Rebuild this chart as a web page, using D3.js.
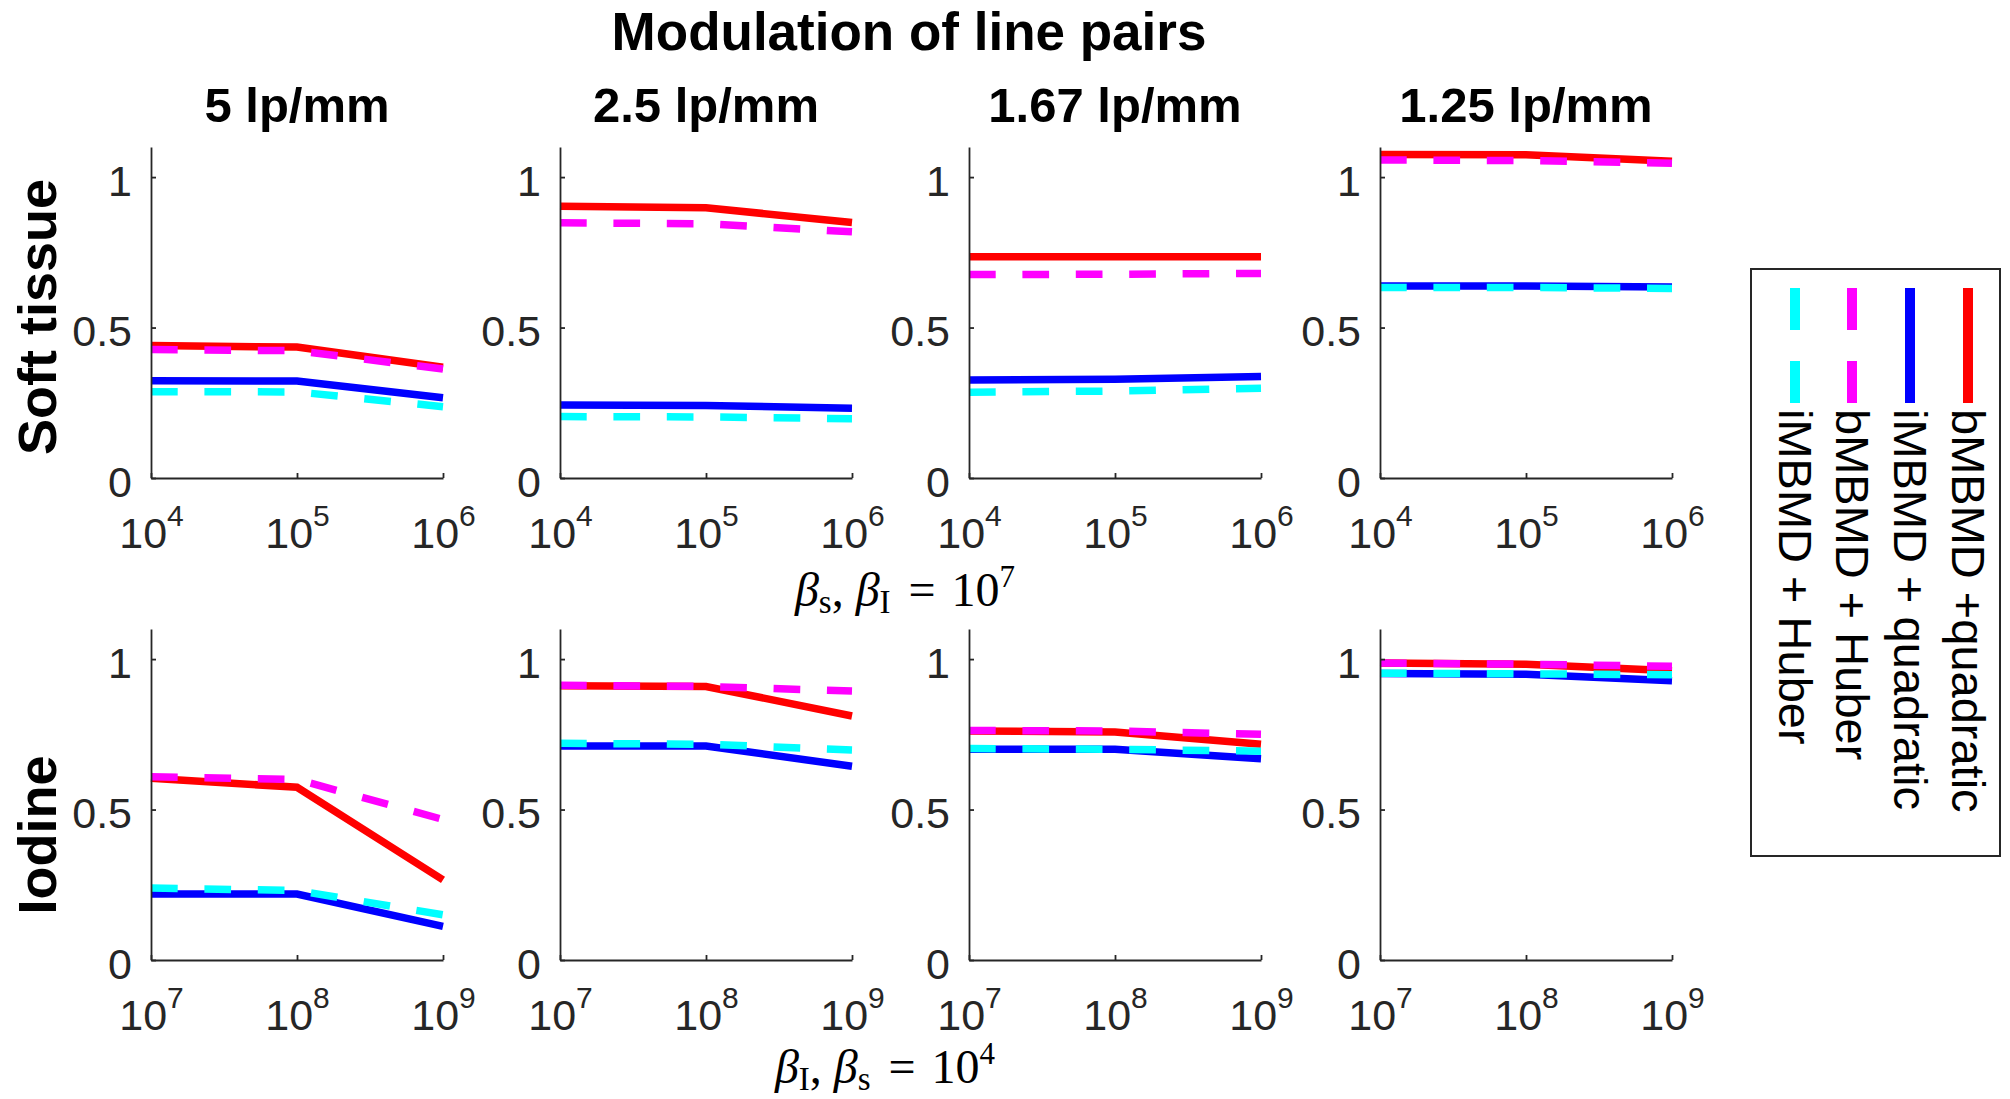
<!DOCTYPE html>
<html>
<head>
<meta charset="utf-8">
<script src="https://cdn.jsdelivr.net/npm/d3@7"></script>
<style>
  html, body { margin: 0; padding: 0; background: #ffffff; }
  svg { display: block; }
</style>
</head>
<body>
<script>
// ---------------- DATA ----------------
const panelTitles = ["5 lp/mm", "2.5 lp/mm", "1.67 lp/mm", "1.25 lp/mm"];
const rowLabels = ["Soft tissue", "Iodine"];
const seriesNames = ["bMBMD +quadratic", "iMBMD + quadratic", "bMBMD + Huber", "iMBMD + Huber"];

const xTop = [1e4, 1e5, 1e6];
const xBottom = [1e7, 1e8, 1e9];
const yTickValues = [0, 0.5, 1];
const yTickLabels = ["0", "0.5", "1"];
const xTopExponents = [4, 5, 6];
const xBottomExponents = [7, 8, 9];

// Soft tissue row (beta_s varied, beta_I = 1e7); one array per panel
const softBQuad = [[0.440, 0.435, 0.368], [0.903, 0.898, 0.849], [0.735, 0.735, 0.735], [1.075, 1.074, 1.053]];
const softIQuad = [[0.323, 0.322, 0.267], [0.243, 0.241, 0.232], [0.326, 0.328, 0.337], [0.638, 0.638, 0.635]];
const softBHuber = [[0.427, 0.423, 0.362], [0.848, 0.845, 0.818], [0.676, 0.677, 0.680], [1.057, 1.055, 1.046]];
const softIHuber = [[0.287, 0.286, 0.237], [0.204, 0.203, 0.197], [0.285, 0.289, 0.298], [0.633, 0.633, 0.630]];

// Iodine row (beta_I varied, beta_s = 1e4)
const iodBQuad = [[0.604, 0.574, 0.266], [0.911, 0.909, 0.811], [0.761, 0.758, 0.717], [0.987, 0.983, 0.961]];
const iodIQuad = [[0.219, 0.219, 0.112], [0.711, 0.711, 0.644], [0.700, 0.700, 0.669], [0.952, 0.950, 0.928]];
const iodBHuber = [[0.609, 0.600, 0.467], [0.913, 0.909, 0.894], [0.763, 0.761, 0.750], [0.987, 0.983, 0.976]];
const iodIHuber = [[0.239, 0.231, 0.150], [0.720, 0.717, 0.698], [0.703, 0.700, 0.694], [0.953, 0.951, 0.948]];

// ---------------- STYLE ----------------
const seriesColors = ["#ff0000", "#0000ff", "#ff00ff", "#00ffff"];
const seriesDash = [null, null, "26.7 26.7", "26.7 26.7"];
const axisColor = "#262626";
const sans = "'Liberation Sans', Arial, Helvetica, sans-serif";
const serif = "'Liberation Serif', 'DejaVu Serif', serif";

const W = 2010, H = 1099;
const colLeft = [151, 560, 969, 1380];
const plotW = 292;
const rowZeroY = [478, 960];
const rowTopY = [147, 629];

const svg = d3.select("body").append("svg").attr("width", W).attr("height", H);

const rows = [
  { xs: xTop, exps: xTopExponents, series: [softBQuad, softIQuad, softBHuber, softIHuber] },
  { xs: xBottom, exps: xBottomExponents, series: [iodBQuad, iodIQuad, iodBHuber, iodIHuber] }
];

rows.forEach((row, r) => {
  for (let p = 0; p < 4; p++) {
    const x = d3.scaleLog().domain([row.xs[0], row.xs[2]]).range([colLeft[p], colLeft[p] + plotW]);
    const y = d3.scaleLinear().domain([0, 1.1]).range([rowZeroY[r], rowTopY[r]]);
    const g = svg.append("g");

    // lines
    const line = d3.line().x(d => x(d[0])).y(d => y(d[1]));
    row.series.forEach((s, si) => {
      const pts = row.xs.map((xv, i) => [xv, s[p][i]]);
      g.append("path")
        .attr("d", line(pts))
        .attr("fill", "none")
        .attr("stroke", seriesColors[si])
        .attr("stroke-width", 7.5)
        .attr("stroke-linejoin", "miter")
        .attr("stroke-dasharray", seriesDash[si]);
    });

    // x axis
    const xAxis = d3.axisBottom(x).tickValues(row.xs).tickSizeInner(-5).tickSizeOuter(0).tickFormat(() => "");
    const gx = g.append("g").attr("transform", `translate(0,${rowZeroY[r]})`).call(xAxis);
    gx.select(".domain").attr("stroke", axisColor).attr("stroke-width", 1.8);
    gx.selectAll(".tick line").attr("stroke", axisColor).attr("stroke-width", 1.8);
    gx.selectAll(".tick text").each(function (d, i) {
      const t = d3.select(this);
      t.text(null).attr("y", 70).attr("dy", 0)
        .attr("font-family", sans).attr("font-size", 43).attr("fill", axisColor)
        .attr("text-anchor", "middle");
      t.append("tspan").text("10");
      t.append("tspan").attr("dy", -22).attr("font-size", 30).text(row.exps[i]);
    });

    // y axis
    const yAxis = d3.axisLeft(y).tickValues(yTickValues).tickSizeInner(-5).tickSizeOuter(0)
      .tickFormat((d, i) => yTickLabels[i]);
    const gy = g.append("g").attr("transform", `translate(${colLeft[p]},0)`).call(yAxis);
    gy.select(".domain").attr("stroke", axisColor).attr("stroke-width", 1.8);
    gy.selectAll(".tick line").attr("stroke", axisColor).attr("stroke-width", 1.8);
    gy.selectAll(".tick text")
      .attr("x", -19).attr("dy", 18)
      .attr("font-family", sans).attr("font-size", 43).attr("fill", axisColor)
      .attr("text-anchor", "end");

    // panel title (top row only)
    if (r === 0) {
      svg.append("text")
        .attr("x", colLeft[p] + plotW / 2).attr("y", 122)
        .attr("text-anchor", "middle")
        .attr("font-family", sans).attr("font-weight", "bold").attr("font-size", 49)
        .attr("fill", "#000")
        .text(panelTitles[p]);
    }
  }
});

// main title
svg.append("text")
  .attr("x", 909).attr("y", 50)
  .attr("text-anchor", "middle")
  .attr("font-family", sans).attr("font-weight", "bold").attr("font-size", 53)
  .attr("fill", "#000")
  .text("Modulation of line pairs");

// row labels
const rowLabelCY = [317, 835];
rowLabels.forEach((lab, r) => {
  svg.append("text")
    .attr("transform", `translate(56,${rowLabelCY[r]}) rotate(-90)`)
    .attr("text-anchor", "middle")
    .attr("font-family", sans).attr("font-weight", "bold").attr("font-size", 54)
    .attr("fill", "#000")
    .text(lab);
});

// x labels (math)
function mathLabel(cx, by, sub1, sub2, exp) {
  const t = svg.append("text")
    .attr("x", cx).attr("y", by)
    .attr("text-anchor", "middle")
    .attr("font-family", serif).attr("font-size", 48).attr("fill", "#000");
  t.append("tspan").attr("font-style", "italic").text("β");
  t.append("tspan").attr("font-size", 33).attr("dy", 7).text(sub1);
  t.append("tspan").attr("dy", -7).text(", ");
  t.append("tspan").attr("font-style", "italic").text("β");
  t.append("tspan").attr("font-size", 33).attr("dy", 7).text(sub2);
  t.append("tspan").attr("dy", -7).attr("dx", 6).text(" = ");
  t.append("tspan").attr("dx", 4).text("10");
  t.append("tspan").attr("font-size", 31).attr("dy", -19).text(exp);
}
mathLabel(905, 606, "s", "I", "7");
mathLabel(885, 1083, "I", "s", "4");

// legend
const legend = svg.append("g");
legend.append("rect")
  .attr("x", 1751).attr("y", 269).attr("width", 249).attr("height", 587)
  .attr("fill", "#fff").attr("stroke", axisColor).attr("stroke-width", 2);
const legendColX = [1968, 1910, 1852, 1795];
seriesNames.forEach((name, i) => {
  legend.append("line")
    .attr("x1", legendColX[i]).attr("x2", legendColX[i])
    .attr("y1", 288).attr("y2", 403)
    .attr("stroke", seriesColors[i]).attr("stroke-width", 10)
    .attr("stroke-dasharray", seriesDash[i] ? "42 31" : null);
  legend.append("text")
    .attr("transform", `translate(${legendColX[i]},409) rotate(90)`)
    .attr("text-anchor", "start")
    .attr("dominant-baseline", "central")
    .attr("font-family", sans).attr("font-size", 47).attr("fill", "#000")
    .text(name);
});
</script>
</body>
</html>
